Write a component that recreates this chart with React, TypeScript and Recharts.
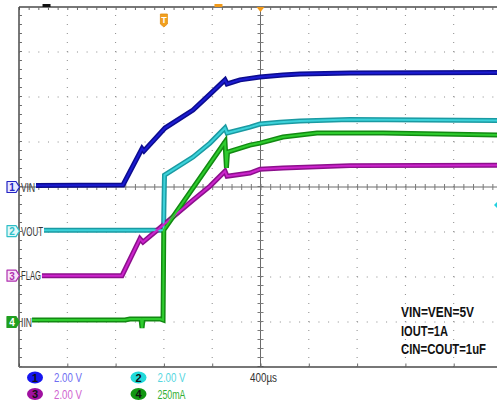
import React from "react";
import { LineChart, Line, XAxis, YAxis, ReferenceLine, ReferenceDot } from "recharts";

// scope grid: 10 x 400us divisions (trigger on div 3), 8 vertical divisions
const timeDivs = [-800, -400, 0, 400, 1200, 1600, 2000, 2400];
const levelDivs = [1, 2, 3, 5, 6, 7];

// CH1 VIN (V), 2 V/div
const vinT = [-1059, -339, -181, -165, 9, 241, 382, 506, 523, 630, 796, 986, 1127, 1541, 2759];
const vinV = [0.07, 0.09, 1.71, 1.6, 2.62, 3.42, 4.13, 4.76, 4.58, 4.76, 4.89, 4.98, 5.02, 5.07, 5.09];

// CH2 VOUT (V), 2 V/div
const voutT = [-993, -3, 5, 241, 382, 506, 523, 713, 796, 961, 1127, 1541, 2759];
const voutV = [0.04, 0.04, 2.49, 3.29, 3.91, 4.58, 4.36, 4.62, 4.76, 4.84, 4.89, 4.96, 4.91];

// CH3 FLAG (V), 2 V/div
const flagT = [-1010, -347, -198, -173, -7, 241, 382, 506, 523, 713, 796, 986, 1541, 2759];
const flagV = [0.0, 0.0, 1.64, 1.49, 2.24, 3.36, 3.98, 4.64, 4.42, 4.56, 4.73, 4.78, 4.89, 4.91];

// CH4 IIN (mA), 250 mA/div
const iinT = [-1092, -322, -281, -190, -181, -173, -32, -7, -1, 506, 518, 527, 713, 796, 986, 1268, 1815, 2759];
const iinV = [11, 11, 17, 17, -33, 17, 17, 11, 511, 1000, 856, 944, 983, 994, 1028, 1050, 1050, 1039];

const toDiv = (ts: number[], vs: number[], offset: number, perDiv: number) =>
  ts.map((t, i) => ({ t, y: offset + vs[i] / perDiv }));

const channels = [
  { n: 1, label: "VIN", data: toDiv(vinT, vinV, 4.0, 2), offset: 4.0, outer: "#0c0c8e", inner: "#1c1cd2", tag: "#2424c4", tagFill: "#e8e8ff", tagW: 14 },
  { n: 2, label: "VOUT", data: toDiv(voutT, voutV, 3.02, 2), offset: 3.02, outer: "#1a9aa2", inner: "#3cd2da", tag: "#2ebfc8", tagFill: "#e2f8f8", tagW: 22 },
  { n: 3, label: "FLAG", data: toDiv(flagT, flagV, 2.03, 2), offset: 2.03, outer: "#8c108c", inner: "#cc24cc", tag: "#b030b0", tagFill: "#f8e4f8", tagW: 20 },
  { n: 4, label: "IIN", data: toDiv(iinT, iinV, 1.0, 250), offset: 1.0, outer: "#128a12", inner: "#2ecc2e", tag: "#1f9f1f", tagFill: "#1f9f1f", tagW: 11 },
];

const narrow = "'Liberation Sans Narrow', 'Arial Narrow', 'Liberation Sans', Arial, sans-serif";

const ChannelTag = (props: any) => {
  const { cx, cy, ch } = props;
  const filled = ch.n === 4;
  return (
    <g>
      <path
        d={`M${cx - 12},${cy - 5.5} H${cx - 3} L${cx + 0.5},${cy} L${cx - 3},${cy + 5.5} H${cx - 12} Z`}
        fill={ch.tagFill}
        stroke={ch.tag}
        strokeWidth={1.2}
        strokeLinejoin="round"
      />
      <text x={cx - 7} y={cy + 4} textAnchor="middle" fontSize={10} fontFamily={narrow} fontWeight={700} fill={filled ? "#fff" : ch.tag}>
        {ch.n}
      </text>
      <text x={cx + 2} y={cy + 4.5} fontSize={12} fontFamily={narrow} fill="#333" textLength={ch.tagW} lengthAdjust="spacingAndGlyphs">
        {ch.label}
      </text>
    </g>
  );
};

const TrigMarker = ({ cx, cy }: any) => (
  <g>
    <path d={`M${cx - 3.5},${cy + 7} h7 v10 l-3.5,3 l-3.5,-3 Z`} fill="#f2a01e" stroke="#e08a10" strokeWidth={0.8} />
    <text x={cx} y={cy + 16} textAnchor="middle" fontSize={9} fontWeight={700} fontFamily={narrow} fill="#fff">T</text>
  </g>
);

const PosTriangle = ({ cx, cy }: any) => (
  <path d={`M${cx - 4},${cy} L${cx + 4},${cy} L${cx},${cy + 5} Z`} fill="#f29a1a" />
);

const TopMark = ({ cx, cy, color }: any) => (
  <rect x={cx - 4} y={cy - 3} width={8} height={3} fill={color} />
);

const LevelMark = ({ cx, cy }: any) => (
  <path d={`M${cx - 8},${cy} L${cx - 3},${cy - 5} L${cx + 2},${cy} L${cx - 3},${cy + 5} Z`} fill="#22d0e0" />
);

const legend = [
  { n: "1", text: "2.00 V", col: 35, row: 0, dot: "#1616f0", color: "#6e6ef2" },
  { n: "2", text: "2.00 V", col: 138.5, row: 0, dot: "#22dada", color: "#55d6e0" },
  { n: "3", text: "2.00 V", col: 35, row: 1, dot: "#a010a0", color: "#d062d0" },
  { n: "4", text: "250mA", col: 138.5, row: 1, dot: "#129612", color: "#34b034" },
];

const notes = [
  { text: "VIN=VEN=5V", w: 73 },
  { text: "IOUT=1A", w: 47 },
  { text: "CIN=COUT=1uF", w: 85 },
];
const noteScale = 0.82;

export default function App() {
  return (
    <div style={{ position: "absolute", left: 0, top: 0, width: 497, height: 403, overflow: "hidden", background: "#fff" }}>
      <LineChart width={503} height={403} margin={{ top: 7, right: 1, bottom: 36, left: 19 }}>
        <XAxis type="number" dataKey="t" domain={[-1200, 2800]} allowDataOverflow hide />
        <YAxis type="number" domain={[0, 8]} allowDataOverflow hide />

        {timeDivs.map((t) => (
          <ReferenceLine key={`gx${t}`} x={t} stroke="#8a8a8a" strokeDasharray="1 8" />
        ))}
        {levelDivs.map((v) => (
          <ReferenceLine key={`gy${v}`} y={v} stroke="#8a8a8a" strokeDasharray="1 8.66" />
        ))}

        {/* center cross with minor ticks */}
        <ReferenceLine x={800} stroke="#6a6a6a" strokeWidth={1} />
        <ReferenceLine x={800} stroke="#7a7a7a" strokeWidth={6} strokeDasharray="1 8" />
        <ReferenceLine y={4} stroke="#6a6a6a" strokeWidth={1} />
        <ReferenceLine y={4} stroke="#7a7a7a" strokeWidth={6} strokeDasharray="1 8.66" />

        {/* frame */}
        <ReferenceLine y={8} stroke="#4a4a4a" strokeWidth={1.5} />
        <ReferenceLine y={7.967} stroke="#6a6a6a" strokeWidth={3} strokeDasharray="1 8.66" />
        <ReferenceLine y={0} stroke="#4a4a4a" strokeWidth={1.5} />
        <ReferenceLine y={0.04} stroke="#6a6a6a" strokeWidth={3.5} strokeDasharray="1 47.3" />
        <ReferenceLine x={-1200} stroke="#4a4a4a" strokeWidth={1.5} />
        <ReferenceLine x={-1188} stroke="#6a6a6a" strokeWidth={3} strokeDasharray="1 8" />

        {channels.map((ch) => (
          <Line key={`o${ch.n}`} data={ch.data} dataKey="y" type="linear" stroke={ch.outer} strokeWidth={5} dot={false} isAnimationActive={false} />
        ))}
        {channels.map((ch) => (
          <Line key={`i${ch.n}`} data={ch.data} dataKey="y" type="linear" stroke={ch.inner} strokeWidth={2} dot={false} isAnimationActive={false} />
        ))}

        {channels.map((ch) => (
          <ReferenceDot key={`tag${ch.n}`} x={-1200} y={ch.offset} r={0} shape={(p: any) => <ChannelTag {...p} ch={ch} />} />
        ))}
        <ReferenceDot x={0} y={8} r={0} shape={(p: any) => <TrigMarker {...p} />} />
        <ReferenceDot x={800} y={8} r={0} shape={(p: any) => <PosTriangle {...p} />} />
        <ReferenceDot x={-972} y={8} r={0} shape={(p: any) => <TopMark {...p} color="#111" />} />
        <ReferenceDot x={452} y={8} r={0} shape={(p: any) => <TopMark {...p} color="#f29a1a" />} />
        <ReferenceDot x={2800} y={3.6} r={0} shape={(p: any) => <LevelMark {...p} />} />
      </LineChart>

      <svg width={497} height={403} style={{ position: "absolute", left: 0, top: 0, pointerEvents: "none" }}>
        {legend.map((l) => (
          <g key={l.n}>
            <ellipse cx={l.col} cy={377.5 + l.row * 16.5} rx={8} ry={6} fill={l.dot} />
            <text x={l.col} y={381.5 + l.row * 16.5} textAnchor="middle" fontSize={11} fontWeight={700} fontFamily={narrow} fill="#111">
              {l.n}
            </text>
            <text x={l.col + 19} y={382 + l.row * 16.5} fontSize={12.5} fontFamily={narrow} fill={l.color} textLength={28} lengthAdjust="spacingAndGlyphs">
              {l.text}
            </text>
          </g>
        ))}
        <text x={250} y={382} fontSize={12.5} fontFamily={narrow} fill="#333" textLength={27} lengthAdjust="spacingAndGlyphs">
          400µs
        </text>
        {notes.map((n, i) => (
          <text
            key={n.text}
            transform={`translate(401 ${317 + i * 18.5}) scale(${noteScale} 1)`}
            x={0}
            y={0}
            fontSize={14}
            fontWeight={700}
            fontFamily={narrow}
            fill="#111"
            textLength={n.w / noteScale}
            lengthAdjust="spacingAndGlyphs"
          >
            {n.text}
          </text>
        ))}
      </svg>
    </div>
  );
}
